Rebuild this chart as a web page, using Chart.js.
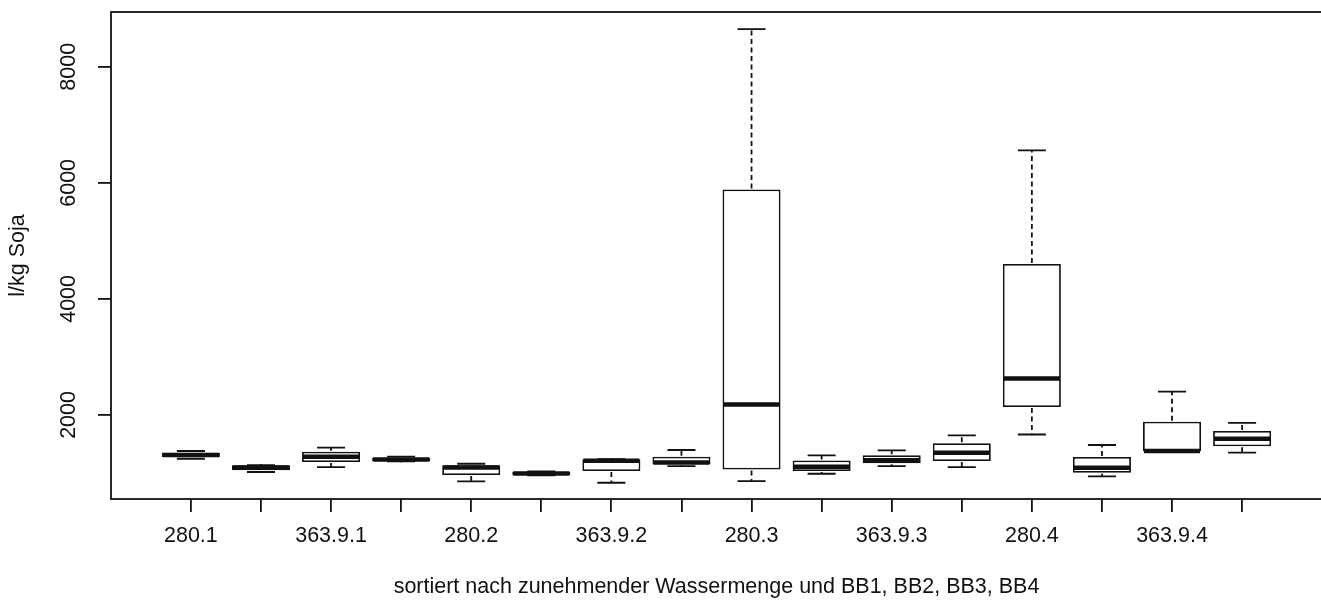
<!DOCTYPE html>
<html>
<head>
<meta charset="utf-8">
<script src="https://cdn.jsdelivr.net/npm/chart.js@4/dist/chart.umd.min.js"></script>
<style>
  html, body { margin: 0; padding: 0; background: #fff; overflow: hidden; }
  #wrap { width: 1330px; height: 601px; }
</style>
</head>
<body>
<div id="wrap"><canvas id="c" width="1330" height="601"></canvas></div>
<script>
// Tick labels along the x axis (only every second group is labelled)
const tickLabels = ['280.1', '', '363.9.1', '', '280.2', '', '363.9.2', '',
                    '280.3', '', '363.9.3', '', '280.4', '', '363.9.4', ''];

// Five-number summaries per group (l/kg Soja)
const lowerWhisker = [1245, 1016, 1102, 1200,  855,  960,  831, 1119,  860,  986, 1119, 1102, 1663,  941, 1378, 1349];
const lowerQuart   = [1275, 1045, 1188, 1202,  964,  966, 1033, 1149, 1059, 1033, 1166, 1206, 2138, 1003, 1378, 1459];
const medians      = [1309, 1093, 1280, 1231, 1093,  990, 1211, 1180, 2178, 1105, 1218, 1349, 2630, 1090, 1378, 1591];
const upperQuart   = [1349, 1131, 1366, 1263, 1131, 1021, 1235, 1280, 5886, 1214, 1304, 1511, 4603, 1275, 1884, 1724];
const upperWhisker = [1378, 1136, 1435, 1280, 1159, 1025, 1240, 1396, 8651, 1304, 1390, 1649, 6560, 1482, 2402, 1862];

// Value axis ticks
const yTicks = [2000, 4000, 6000, 8000];

const FONT = "'Liberation Sans', Arial, sans-serif";
const FONT_SIZE = 21.5;
const INK = '#111';
const LW = 1.8;          // standard line width
const BOX_HALF = 0.4;    // box half width in x units
const STAPLE_HALF = 0.2; // staple half width in x units

// Boxes (lower to upper quartile) as floating bars at positions 1..n
const boxData = tickLabels.map((_, i) => ({ x: i + 1, y: [lowerQuart[i], upperQuart[i]] }));

// Whiskers, staples and medians on top of the boxes, plus the frame and x caption
const boxplotExtras = {
  id: 'boxplotExtras',
  afterDatasetsDraw(chart) {
    const { ctx, scales: { x, y } } = chart;
    ctx.save();
    ctx.strokeStyle = INK;
    ctx.lineCap = 'butt';
    tickLabels.forEach((_, i) => {
      const cx = x.getPixelForValue(i + 1);
      const half = x.getPixelForValue(i + 1 + BOX_HALF) - cx;
      const staple = x.getPixelForValue(i + 1 + STAPLE_HALF) - cx;
      const yLo = y.getPixelForValue(lowerWhisker[i]);
      const yQ1 = y.getPixelForValue(lowerQuart[i]);
      const yQ3 = y.getPixelForValue(upperQuart[i]);
      const yHi = y.getPixelForValue(upperWhisker[i]);
      const yMed = y.getPixelForValue(medians[i]);

      // dashed whiskers
      ctx.lineWidth = LW;
      ctx.setLineDash([5, 3.5]);
      ctx.beginPath();
      ctx.moveTo(cx, yQ3 - 1); ctx.lineTo(cx, yHi);
      ctx.moveTo(cx, yQ1 + 1); ctx.lineTo(cx, yLo);
      ctx.stroke();

      // staples
      ctx.setLineDash([]);
      ctx.beginPath();
      ctx.moveTo(cx - staple, yHi); ctx.lineTo(cx + staple, yHi);
      ctx.moveTo(cx - staple, yLo); ctx.lineTo(cx + staple, yLo);
      ctx.stroke();

      // median
      ctx.lineWidth = 4.5;
      ctx.beginPath();
      ctx.moveTo(cx - half, yMed); ctx.lineTo(cx + half, yMed);
      ctx.stroke();
    });
    ctx.restore();
  },
  afterDraw(chart) {
    const { ctx, chartArea: a } = chart;
    ctx.save();
    ctx.strokeStyle = INK;
    ctx.lineWidth = LW;
    ctx.strokeRect(a.left, a.top, a.right - a.left, a.bottom - a.top);
    // axis caption below the group labels, centred on the plot region
    ctx.fillStyle = INK;
    ctx.font = FONT_SIZE + 'px ' + FONT;
    ctx.textAlign = 'center';
    ctx.textBaseline = 'middle';
    ctx.fillText('sortiert nach zunehmender Wassermenge und BB1, BB2, BB3, BB4',
                 (a.left + a.right) / 2, a.bottom + 88);
    ctx.restore();
  }
};

new Chart(document.getElementById('c'), {
  type: 'bar',
  data: {
    datasets: [{
      data: boxData,
      backgroundColor: '#fff',
      borderColor: INK,
      borderWidth: LW,
      borderSkipped: false,
      barPercentage: 0.828,
      categoryPercentage: 1
    }]
  },
  options: {
    responsive: false,
    animation: false,
    events: [],
    layout: { padding: { top: 12, right: 8, left: 0, bottom: 0 } },
    plugins: { legend: { display: false }, tooltip: { enabled: false } },
    scales: {
      x: {
        type: 'linear',
        min: -0.14,
        max: 17.14,
        offset: false,
        afterBuildTicks: s => { s.ticks = tickLabels.map((_, i) => ({ value: i + 1 })); },
        afterFit: s => { s.height = 102; s.paddingLeft = 0; s.paddingRight = 0; },
        grid: { drawOnChartArea: false, drawTicks: true, tickLength: 13, color: INK, lineWidth: LW, offset: false },
        border: { display: false },
        ticks: {
          autoSkip: false, minRotation: 0, maxRotation: 0, padding: 11,
          color: INK, font: { family: FONT, size: FONT_SIZE },
          callback: (v, i) => tickLabels[i]
        }
      },
      y: {
        min: 551,
        max: 8945,
        afterBuildTicks: s => { s.ticks = yTicks.map(v => ({ value: v })); },
        afterFit: s => { s.width = 111; s.paddingTop = 0; s.paddingBottom = 0; },
        grid: { drawOnChartArea: false, drawTicks: true, tickLength: 13, color: INK, lineWidth: LW },
        border: { display: false },
        ticks: {
          minRotation: 90, maxRotation: 90, crossAlign: 'center', padding: 5,
          color: INK, font: { family: FONT, size: FONT_SIZE },
          callback: v => String(v)
        },
        title: {
          display: true, text: 'l/kg Soja', color: INK,
          font: { family: FONT, size: FONT_SIZE }, padding: { top: 5, bottom: 0 }
        }
      }
    }
  },
  plugins: [boxplotExtras]
});
</script>
</body>
</html>
